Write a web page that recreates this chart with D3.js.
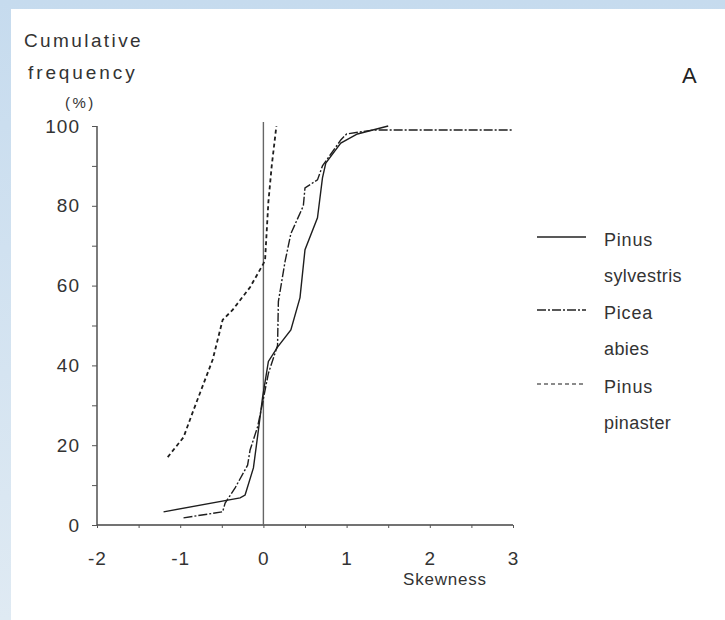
<!DOCTYPE html>
<html>
<head>
<meta charset="utf-8">
<script src="https://cdn.jsdelivr.net/npm/d3@7"></script>
<style>
html,body{margin:0;padding:0;background:#fff;}
svg{display:block;font-family:"Liberation Sans",Arial,sans-serif;}
</style>
</head>
<body>
<svg id="chart" width="725" height="620"></svg>
<script>
// ---- data ----
const seriesNames = ["Pinus sylvestris", "Picea abies", "Pinus pinaster"];
const sylvestrisX = [-1.2, -0.28, -0.22, -0.12, -0.06, -0.01, 0.06, 0.17, 0.33, 0.44, 0.5, 0.65, 0.71, 0.75, 0.93, 1.13, 1.5];
const sylvestrisY = [3.3, 6.8, 7.5, 14.3, 23.8, 32, 41, 44.6, 48.9, 57, 69, 77, 87, 90.7, 95.7, 98, 100];
const abiesX = [-0.96, -0.49, -0.46, -0.34, -0.19, -0.16, -0.07, -0.01, 0.06, 0.17, 0.18, 0.26, 0.33, 0.48, 0.5, 0.65, 0.71, 0.93, 1.0, 1.32, 3.0];
const abiesY = [1.8, 3.3, 5.5, 9.3, 15, 18.8, 24.6, 30.6, 38, 45, 56, 66, 73, 80, 84.5, 86.5, 90, 96.5, 98, 99, 99];
const pinasterX = [-1.15, -0.96, -0.84, -0.61, -0.49, -0.37, -0.16, 0, 0.02, 0.06, 0.1, 0.156];
const pinasterY = [17, 22, 28.8, 41.4, 51.4, 53.9, 59.6, 65.5, 66.4, 81, 90, 100];
const xTicks = [-2, -1.5, -1, -0.5, 0, 0.5, 1, 1.5, 2, 2.5, 3];
const yTicks = [0, 10, 20, 30, 40, 50, 60, 70, 80, 90, 100];
const xLabelTicks = [-2, -1, 0, 1, 2, 3];
const yLabelTicks = [0, 20, 40, 60, 80, 100];
const legendLabels = [["Pinus", "sylvestris"], ["Picea", "abies"], ["Pinus", "pinaster"]];
const dashes = [null, "9,2,2,2", "4,3"];

const svg = d3.select("#chart");

// background frame (scan-like blue border)
const grad = svg.append("defs").append("linearGradient").attr("id","lg").attr("x1",0).attr("x2",0).attr("y1",0).attr("y2",1);
grad.append("stop").attr("offset","0%").attr("stop-color","#c6dbee");
grad.append("stop").attr("offset","100%").attr("stop-color","#dfeaf3");
svg.append("rect").attr("x",0).attr("y",0).attr("width",725).attr("height",620).attr("fill","url(#lg)");
svg.append("rect").attr("x",11).attr("y",9).attr("width",714).attr("height",611).attr("fill","#fff");

const x = d3.scaleLinear().domain([-2, 3]).range([97, 513]);
const y = d3.scaleLinear().domain([0, 100]).range([525, 126]);

// axes
const yAxis = svg.append("g").attr("transform", `translate(${x(-2)},0)`)
  .call(d3.axisLeft(y).tickValues(yTicks).tickSize(5).tickPadding(12)
    .tickFormat(d => yLabelTicks.includes(d) ? d : ""));
const xAxis = svg.append("g").attr("transform", `translate(0,${y(0)})`)
  .call(d3.axisBottom(x).tickValues(xTicks).tickSize(3).tickPadding(24)
    .tickFormat(d => xLabelTicks.includes(d) ? d : ""));
[yAxis, xAxis].forEach(g => {
  g.select(".domain").attr("stroke", "#444").attr("stroke-width", 1.4);
  g.selectAll(".tick line").attr("stroke", "#555").attr("stroke-width", 1);
  g.selectAll(".tick text").attr("fill", "#333").style("font-size", "19px")
    .style("letter-spacing", "1px")
    .style("font-family", "Liberation Sans, Arial, sans-serif");
});
xAxis.select(".domain").attr("d", `M${x(-2)},0H${x(3)}`);
yAxis.select(".domain").attr("d", `M0,${y(0)}V${y(100)}`);

// vertical reference line at 0
svg.append("line").attr("x1", x(0)).attr("x2", x(0)).attr("y1", y(0)).attr("y2", y(101))
  .attr("stroke", "#666").attr("stroke-width", 1.4);

// series
const line = d3.line().x(d => x(d[0])).y(d => y(d[1]));
const series = [
  d3.zip(sylvestrisX, sylvestrisY),
  d3.zip(abiesX, abiesY),
  d3.zip(pinasterX, pinasterY)
];
series.forEach((s, i) => {
  svg.append("path").datum(s).attr("d", line)
    .attr("fill", "none").attr("stroke", "#1e1e1e")
    .attr("stroke-width", i === 2 ? 1.8 : 1.4)
    .attr("stroke-dasharray", dashes[i]);
});

// legend
const legY = [237, 310, 384];
legendLabels.forEach((lab, i) => {
  svg.append("line").attr("x1", 537).attr("x2", 586).attr("y1", legY[i]).attr("y2", legY[i])
    .attr("stroke", i === 2 ? "#666" : "#222").attr("stroke-width", 1.3)
    .attr("stroke-dasharray", dashes[i]);
  svg.append("text").attr("x", 604).attr("y", legY[i] + 9).text(lab[0])
    .attr("fill", "#333").style("font-size", "18px").style("letter-spacing", "0.8px");
  svg.append("text").attr("x", 604).attr("y", legY[i] + 45).text(lab[1])
    .attr("fill", "#333").style("font-size", "18px").style("letter-spacing", "0.4px");
});

// titles
svg.append("text").attr("x", 24).attr("y", 47).text("Cumulative").attr("fill", "#333")
  .style("font-size", "19px").style("letter-spacing", "2.4px");
svg.append("text").attr("x", 28).attr("y", 79).text("frequency").attr("fill", "#333")
  .style("font-size", "19px").style("letter-spacing", "2.9px");
svg.append("text").attr("x", 65).attr("y", 108).text("(%)").attr("fill", "#333")
  .style("font-size", "15px").style("letter-spacing", "2.5px");
svg.append("text").attr("x", 682).attr("y", 83).text("A").attr("fill", "#222").style("font-size", "22px");
svg.append("text").attr("x", 403).attr("y", 585).text("Skewness").attr("fill", "#333")
  .style("font-size", "17px").style("letter-spacing", "0.8px");
</script>
</body>
</html>
